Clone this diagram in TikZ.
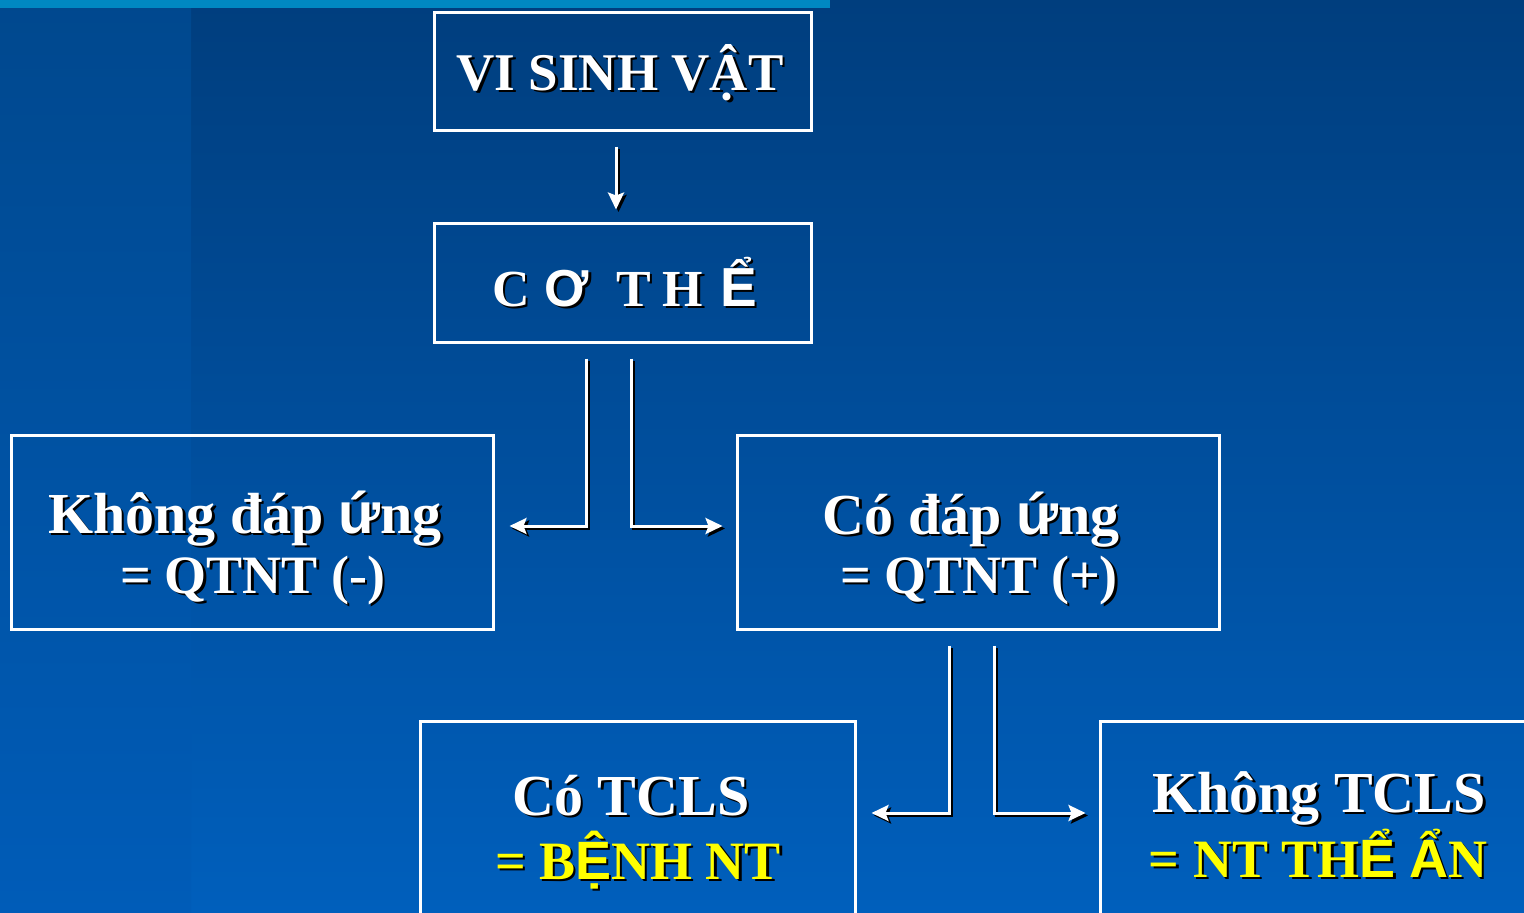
\documentclass[tikz,border=0pt]{standalone}
\usepackage{fontspec}
\setmainfont{Liberation Serif}
\newfontfamily\accentsans{Liberation Sans}
\usetikzlibrary{arrows.meta,calc}

\definecolor{bgtop}{RGB}{0,62,126}
\definecolor{bgbot}{RGB}{0,95,188}
\definecolor{striptop}{RGB}{0,72,142}
\definecolor{stripbot}{RGB}{0,92,184}
\definecolor{topbar}{RGB}{0,136,194}
\definecolor{hilite}{RGB}{255,255,0}

% text with a black drop shadow
\newcommand\shadowed[2][white]{{\rlap{\kern2.5pt\raisebox{-2.5pt}{\color{black}#2}}\color{#1}#2}}
% glyphs set in the sans face
\newcommand\sansglyph[1]{{\accentsans\bfseries #1}}

\tikzset{
  box/.style={draw=white, line width=3pt, inner sep=0pt, outer sep=0pt},
  caption/.style={font=\fontsize{58}{58}\selectfont\bfseries, anchor=base, inner sep=0pt},
  subcaption/.style={caption, font=\fontsize{54}{54}\selectfont\bfseries},
  tip/.tip={Stealth[length=17pt,width=16pt,inset=3pt]},
  flow/.style={white, line width=3pt, -tip,
    preaction={draw=black, fill=none, -tip, line width=3pt,
      transform canvas={xshift=2.5pt,yshift=-2.5pt}}},
}

\begin{document}
\begin{tikzpicture}[x=1pt,y=-1pt]
\useasboundingbox (0,0) rectangle (1524,913);
\clip (0,0) rectangle (1524,913);

% background
\shade[top color=bgtop, bottom color=bgbot] (0,0) rectangle (1524,913);
\shade[top color=striptop, bottom color=stripbot] (0,0) rectangle (191,913);
\fill[topbar] (0,0) rectangle (830,8);

% boxes
\node[box, minimum width=377pt, minimum height=118pt] (vsv) at (623,71.5) {};
\node[box, minimum width=377pt, minimum height=119pt] (co) at (623,283) {};
\node[box, minimum width=482pt, minimum height=194pt] (khong) at (252.5,532.5) {};
\node[box, minimum width=482pt, minimum height=194pt] (coda) at (978.5,532.5) {};
\node[box, minimum width=435pt, minimum height=260pt] (tcls) at (638,851.5) {};
\node[box, minimum width=500pt, minimum height=260pt] (ktcls) at (1350.5,851.5) {};

% captions
\node[caption, font=\fontsize{53}{53}\selectfont\bfseries] (vsvt) at (620,90) {\shadowed{VI SINH VẬT}};
\node[caption, anchor=base west, font=\fontsize{52}{52}\selectfont\bfseries] (cot) at (492,306)
  {\shadowed{C\kern15pt\sansglyph{Ơ}\kern27pt T\kern12pt H\kern17pt\sansglyph{\fontsize{55}{55}\selectfont Ể}}};

\node[caption] (khong1) at (245,533) {\shadowed{Không đáp \sansglyph{ứ}ng}};
\node[subcaption] (khong2) at (253,593) {\shadowed{= QTNT (-)}};

\node[caption] (coda1) at (971,534) {\shadowed{Có đáp \sansglyph{ứ}ng}};
\node[subcaption] (coda2) at (979,593) {\shadowed{= QTNT (+)}};

\node[caption] (tcls1) at (631,815) {\shadowed{Có TCLS}};
\node[subcaption] (tcls2) at (638,879) {\shadowed[hilite]{= B\sansglyph{Ệ}NH NT}};

\node[caption] (ktcls1) at (1319,812) {\shadowed{Không TCLS}};
\node[subcaption] (ktcls2) at (1318,877) {\shadowed[hilite]{= NT TH\sansglyph{Ể} \sansglyph{Ẩ}N}};

% connectors
\coordinate (a0) at ($(vsv.south)+(-7,16)$);
\draw[flow] (a0) -- ($(co.north)+(-7,-14)$);

\coordinate (b1) at ($(co.south)+(-37,16)$);
\coordinate (b2) at ($(co.south)+(8,16)$);
\draw[flow] (b1) |- ($(khong.east)+(16,-6.5)$);
\draw[flow] (b2) |- ($(coda.west)+(-15,-6.5)$);

\coordinate (c1) at ($(coda.south)+(-29.5,16)$);
\coordinate (c2) at ($(coda.south)+(15.5,16)$);
\draw[flow] (c1) |- ($(tcls.east)+(16,-38.5)$);
\draw[flow] (c2) |- ($(ktcls.west)+(-15,-38.5)$);
\end{tikzpicture}
\end{document}
